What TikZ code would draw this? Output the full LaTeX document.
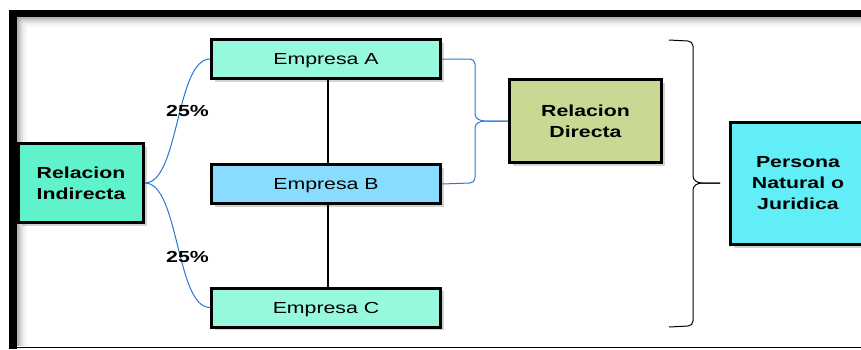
\documentclass[tikz,border=0pt]{standalone}
\usepackage{fontspec}
\setmainfont[FakeStretch=1.33]{Liberation Sans}
\usetikzlibrary{shadows}
\definecolor{cA}{RGB}{150,248,220}
\definecolor{cB}{RGB}{136,221,255}
\definecolor{cRI}{RGB}{96,242,204}
\definecolor{cRD}{RGB}{201,217,148}
\definecolor{cP}{RGB}{98,238,247}
\definecolor{cblue}{RGB}{40,120,210}
\begin{document}
\begin{tikzpicture}[x=1pt,y=-1pt,
  box/.style={draw=black,line width=3pt,inner sep=0pt,align=center,
    font=\fontsize{16}{21}\selectfont,
    drop shadow={opacity=0.35,shadow xshift=3pt,shadow yshift=-3pt}},
  bbox/.style={box,font=\fontsize{16}{21}\selectfont\bfseries},
  emp/.style={box,minimum width=229pt,minimum height=39pt,text depth=0pt},
  link/.style={cblue,line width=1pt},
  brace/.style={black,line width=1pt},
  pct/.style={font=\fontsize{16}{18}\selectfont\bfseries}]
\useasboundingbox (0,0) rectangle (861,349);
% frame shadow
\foreach \i/\o in {0/0.30,2/0.20,4/0.12,6/0.06,8/0.03}{
  \draw[black,opacity=\o,line width=2pt] (17+\i,18+\i) -- (861,18+\i);
  \draw[black,opacity=\o,line width=2pt] (18+\i,18+\i) -- (18+\i,346);
}
% frame
\draw[black,line width=7pt] (9,13.5) -- (861,13.5);
\draw[black,line width=8pt] (13,10) -- (13,349);
\draw[black,line width=1pt] (9,347) -- (861,347);
% nodes
\node[emp,fill=cA] (A) at (326,59) {Empresa A};
\node[emp,fill=cB] (B) at (326,184) {Empresa B};
\node[emp,fill=cA] (C) at (326,307.5) {Empresa C};
\node[bbox,fill=cRI,minimum width=125pt,minimum height=79pt] (RI) at (81,183) {Relacion\\Indirecta};
\node[bbox,fill=cRD,minimum width=152pt,minimum height=83pt] (RD) at (585.5,121) {Relacion\\Directa};
\node[bbox,fill=cP,minimum width=135pt,minimum height=122pt] (P) at (798,183.5) {Persona\\Natural o\\Juridica};
% vertical links
\draw[black,line width=2pt] (A.south -| 328,0) -- (B.north -| 328,0);
\draw[black,line width=2pt] (B.south -| 328,0) -- (C.north -| 328,0);
% indirect curves
\draw[link] (RI.east) .. controls +(34,0) and +(-34,0) .. (A.west);
\draw[link] (RI.east) .. controls +(34,0) and +(-34,0) .. (C.west);
\node[pct] (p1) at (187.5,110.5) {25\%};
\node[pct] (p2) at (187.5,257) {25\%};
% direct brace
\draw[link] (A.east) -- (470,59) to[out=0,in=90] (475,64) -- (475,114)
  to[out=-90,in=180] (485,121) -- (RD.west);
\draw[link] (B.east) -- (470,183) to[out=0,in=-90] (475,178) -- (475,128)
  to[out=90,in=180] (485,121) -- (RD.west);
% big black brace
\coordinate (bt) at (669,40);
\coordinate (bb) at (669,327);
\coordinate (bc) at (720,183);
\draw[brace] (bt) -- (688,41) to[out=0,in=90] (693,46) -- (693,176)
  to[out=-90,in=180] (702,183) -- (bc);
\draw[brace] (bb) -- (688,326) to[out=0,in=-90] (693,321) -- (693,190)
  to[out=90,in=180] (702,183) -- (bc);
\end{tikzpicture}
\end{document}
